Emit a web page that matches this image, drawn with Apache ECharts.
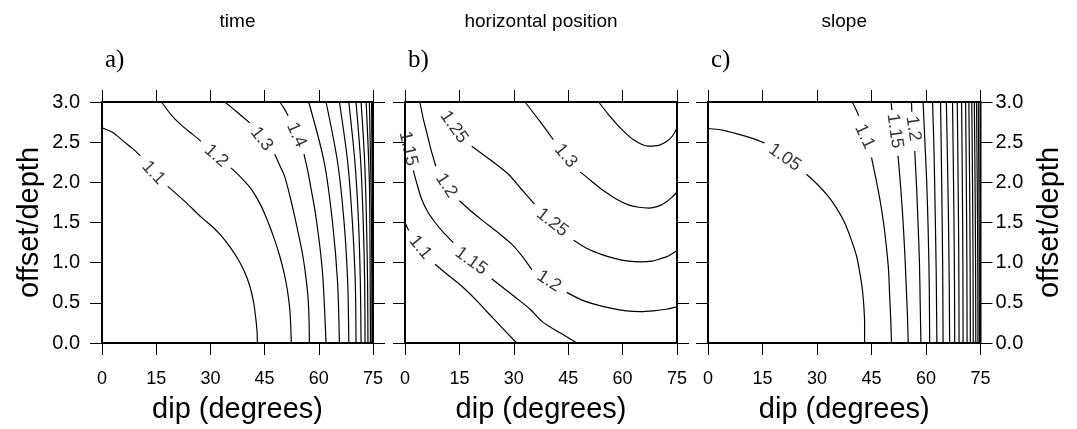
<!DOCTYPE html>
<html>
<head>
<meta charset="utf-8">
<script src="https://cdn.jsdelivr.net/npm/echarts@6/dist/echarts.min.js"></script>
<style>
html,body{margin:0;padding:0;background:#fff;}
#chart{width:1077px;height:429px;}
</style>
</head>
<body>
<div id="chart"></div>
<script>
// ---------- data ----------
const xTicks = [0, 15, 30, 45, 60, 75];
const yTicks = [0.0, 0.5, 1.0, 1.5, 2.0, 2.5, 3.0];
const panelTitles = ['time', 'horizontal position', 'slope'];
const panelLetters = ['a)', 'b)', 'c)'];
const xName = 'dip (degrees)';
const yName = 'offset/depth';

// Panel a: time — contour segments [dip, offset/depth]
const timeLines = [
  [[0,2.68],[3,2.62],[6,2.51],[8.5,2.42],[10.6,2.33]],
  [[18.2,1.95],[23,1.76],[27.6,1.56],[30.5,1.45],[33.1,1.33],[35.5,1.19],[37.7,1.04],[39.5,0.88],[40.9,0.71],[41.9,0.52],[42.5,0.33],[42.9,0.15],[43.0,0]],
  [[16.5,3.0],[19.5,2.82],[22.5,2.69],[25,2.6],[27.4,2.51]],
  [[35.7,2.18],[38.7,2.05],[41.4,1.91],[44,1.71],[46,1.5],[47.8,1.28],[49.2,1.08],[50.4,0.87],[51.3,0.66],[51.9,0.45],[52.2,0.25],[52.4,0]],
  [[34,3.0],[37.5,2.87],[40.9,2.74]],
  [[47.8,2.35],[49.3,2.2],[50.5,2.08],[52,1.83],[53.3,1.58],[54.5,1.33],[55.6,1.08],[56.4,0.83],[57,0.58],[57.3,0.29],[57.4,0]],
  [[49.2,3.0],[50.4,2.92],[51.5,2.83]],
  [[55.9,2.35],[57,2.13],[57.9,1.91],[58.9,1.66],[59.7,1.41],[60.5,1.12],[61.1,0.83],[61.6,0.42],[62,0]],
  [[57.2,3],[61.5,2.25],[63.8,1.5],[65.2,0.75],[65.7,0]],
  [[62,3],[65.2,2.25],[67.0,1.5],[68.0,0.75],[68.3,0]],
  [[65.7,3],[68.0,2.25],[69.3,1.5],[70.1,0.75],[70.3,0]],
  [[68.3,3],[70.0,2.25],[71.0,1.5],[71.5,0.75],[71.7,0]],
  [[70.3,3],[71.6,2.25],[72.3,1.5],[72.7,0.75],[72.8,0]],
  [[71.7,3],[72.7,2.25],[73.2,1.5],[73.5,0.75],[73.6,0]],
  [[73.1,3],[74.0,2],[74.2,1],[74.3,0]],
  [[74.0,3],[74.6,1.5],[74.7,0]],
  [[74.6,3],[74.85,1.5],[74.9,0]]
];
const timeLabels = [
  ['1.1', 14.2, 2.12, -47],
  ['1.2', 31.6, 2.33, -42],
  ['1.3', 44.2, 2.54, -52],
  ['1.4', 53.8, 2.59, -66]
];

// Panel b: horizontal position
const hposLines = [
  [[4.1,3.0],[5.0,2.8],[6.0,2.62],[7.2,2.4],[8.5,2.2]],
  [[15.0,1.77],[18,1.65],[21.5,1.52],[25.5,1.38],[29.4,1.23],[32.5,1.07],[35,0.91]],
  [[44.6,0.63],[48.5,0.54],[52.4,0.48],[57,0.43],[61,0.40],[64.9,0.39],[68.5,0.40],[72,0.42],[75,0.45]],
  [[2.3,2.15],[3.3,1.98],[4.6,1.79],[6.3,1.63],[8.3,1.5],[10.7,1.37],[13.3,1.25]],
  [[23.9,0.8],[27,0.69],[30.4,0.57],[34.5,0.42],[38,0.26],[43,0.12],[47.4,0]],
  [[0,1.5],[1.0,1.4]],
  [[8.3,0.98],[12,0.84],[15.6,0.71],[19.5,0.54],[23,0.37],[27,0.18],[30.8,0]],
  [[18.4,2.45],[23.5,2.28],[28.5,2.1],[32,1.92],[35.7,1.73]],
  [[46.5,1.28],[50.5,1.17],[54.3,1.1],[58,1.05],[61.6,1.02],[65,1.01],[68.1,1.02],[70.5,1.05],[72.5,1.08],[75,1.15]],
  [[33.1,3.0],[37,2.77],[40.9,2.53]],
  [[48.3,2.13],[51.3,2.02],[54.3,1.91],[58,1.8],[61.6,1.72],[64.5,1.69],[67.2,1.68],[69.7,1.7],[71.8,1.75],[73.5,1.81],[75,1.88]],
  [[53.4,3.0],[56,2.85],[59.3,2.68],[63,2.53],[67.1,2.45],[70,2.46],[72.2,2.51],[73.8,2.58],[75,2.68]]
];
const hposLabels = [
  ['1.25', 13.5, 2.69, -55],
  ['1.15', 0.9, 2.42, -77],
  ['1.2', 11.4, 1.96, -57],
  ['1.3', 44.3, 2.33, -50],
  ['1.25', 40.6, 1.5, -38],
  ['1.1', 4.2, 1.19, -50],
  ['1.15', 18.2, 1.02, -36],
  ['1.2', 39.7, 0.77, -33]
];

// Panel c: slope
const slopeLines = [
  [[0,2.67],[4,2.65],[8.3,2.6],[12,2.55],[15.6,2.49]],
  [[27.1,2.1],[30.2,1.97],[33,1.83],[35.5,1.67],[37.6,1.5],[39.4,1.29],[40.9,1.08],[41.8,0.87],[42.5,0.66],[42.9,0.45],[43.1,0.25],[43.1,0]],
  [[39.7,3.0],[40.6,2.92],[41.5,2.83]],
  [[45,2.31],[46.2,2.05],[47.3,1.79],[48.3,1.5],[49.1,1.2],[49.7,0.9],[50.0,0.58],[50.3,0.29],[50.5,0]],
  [[50.4,3.0],[50.6,2.9]],
  [[52.3,2.33],[53.1,1.9],[53.7,1.5],[54.2,1.08],[54.6,0.66],[54.9,0.33],[55.1,0]],
  [[56,3.0],[56.1,2.88]],
  [[56.9,2.39],[57.4,1.95],[57.8,1.5],[58.2,1.0],[58.4,0.5],[58.6,0]],
  [[59.2,3],[59.7,2.5],[60.2,2],[60.6,1.4],[60.9,0.7],[61,0]],
  [[61.8,3],[62.2,2.4],[62.5,1.7],[62.8,0.9],[63,0]],
  [[64,3],[64.2,2.4],[64.4,1.7],[64.6,0.9],[64.7,0]],
  [[65.6,3],[65.9,2.3],[66.2,1.5],[66.4,0.7],[66.5,0]],
  [[67.3,3],[67.5,2.3],[67.7,1.5],[67.85,0.7],[67.9,0]],
  [[68.6,3],[68.8,2.2],[69,1.2],[69.1,0]],
  [[69.8,3],[70,2],[70.15,1],[70.2,0]],
  [[70.9,3],[71.1,2],[71.25,1],[71.3,0]],
  [[71.8,3],[72.0,2],[72.15,1],[72.2,0]],
  [[72.6,3],[72.8,2],[72.95,1],[73.0,0]],
  [[73.3,3],[73.5,2],[73.65,1],[73.7,0]],
  [[73.9,3],[74.1,2],[74.25,1],[74.3,0]],
  [[74.4,3],[74.55,2],[74.65,1],[74.7,0]]
];
const slopeLabels = [
  ['1.05', 21.1, 2.31, -35],
  ['1.1', 43.1, 2.57, -65],
  ['1.15', 51.4, 2.64, -82],
  ['1.2', 56.5, 2.67, -82]
];

// ---------- chart ----------
const SANS = '"Liberation Sans", Arial, Helvetica, sans-serif';
const SERIF = '"Liberation Serif", "Times New Roman", serif';
const panels = [
  {lines: timeLines, labels: timeLabels, left: 102, width: 271},
  {lines: hposLines, labels: hposLabels, left: 405, width: 272},
  {lines: slopeLines, labels: slopeLabels, left: 708, width: 272.5}
];
const TOP = 102, HEIGHT = 241;
const tickStyle = {show: true, inside: false, length: 12, lineStyle: {color: '#000', width: 1}};
const noLine = {show: false, onZero: false};

const grid = [], xAxis = [], yAxis = [], series = [], graphic = [];
panels.forEach((p, i) => {
  grid.push({left: p.left, top: TOP, width: p.width, height: HEIGHT, show: true,
    borderColor: '#000', borderWidth: 2, backgroundColor: 'transparent', containLabel: false});
  const xb = {gridIndex: i, type: 'value', position: 'bottom', min: xTicks[0], max: xTicks[xTicks.length-1],
    interval: xTicks[1]-xTicks[0], axisLine: noLine, axisTick: tickStyle, splitLine: {show: false},
    axisLabel: {show: true, margin: 27, fontSize: 18, color: '#000', fontFamily: SANS},
    name: xName, nameLocation: 'middle', nameGap: 52,
    nameTextStyle: {fontSize: 29, color: '#000', fontFamily: SANS}};
  const xt = Object.assign({}, xb, {position: 'top', axisLabel: {show: false}, name: ''});
  xAxis.push(xb, xt);
  const yl = {gridIndex: i, type: 'value', position: 'left', min: yTicks[0], max: yTicks[yTicks.length-1],
    interval: yTicks[1]-yTicks[0], axisLine: noLine, axisTick: tickStyle, splitLine: {show: false},
    axisLabel: {show: i === 0, margin: 22, fontSize: 20, color: '#000', fontFamily: SANS, formatter: v => v.toFixed(1)},
    name: i === 0 ? yName : '', nameLocation: 'middle', nameGap: 58, nameRotate: 90,
    nameTextStyle: {fontSize: 29, color: '#000', fontFamily: SANS}};
  const yr = Object.assign({}, yl, {position: 'right',
    axisLabel: {show: i === 2, margin: 15, fontSize: 20, color: '#000', fontFamily: SANS, formatter: v => v.toFixed(1)},
    name: i === 2 ? yName : '', nameGap: 55});
  yAxis.push(yl, yr);

  p.lines.forEach(seg => {
    series.push({type: 'line', xAxisIndex: 2*i, yAxisIndex: 2*i, data: seg, showSymbol: false,
      symbol: 'none', smooth: 0.3, lineStyle: {color: '#000', width: 1.2}, silent: true, animation: false, z: 3});
  });
  series.push({type: 'scatter', xAxisIndex: 2*i, yAxisIndex: 2*i, symbolSize: 1, silent: true, animation: false,
    itemStyle: {color: 'rgba(0,0,0,0)'}, z: 4,
    label: {show: true, position: 'inside', color: '#000', fontSize: 18, fontFamily: SANS, formatter: d => d.name},
    data: p.labels.map(l => ({name: l[0], value: [l[1], l[2]], label: {rotate: l[3]}}))});

  const cx = p.left + p.width / 2;
  graphic.push({type: 'text', x: cx, y: 22, style: {text: panelTitles[i], fontSize: 19, fontFamily: SANS,
    fill: '#000', align: 'center', verticalAlign: 'middle'}});
  graphic.push({type: 'text', x: p.left + 3, y: 60, style: {text: panelLetters[i], fontSize: 25, fontFamily: SERIF,
    fill: '#000', align: 'left', verticalAlign: 'middle'}});
});

const chart = echarts.init(document.getElementById('chart'), null, {renderer: 'canvas'});
chart.setOption({animation: false, backgroundColor: '#fff', grid, xAxis, yAxis, series, graphic});
</script>
</body>
</html>
